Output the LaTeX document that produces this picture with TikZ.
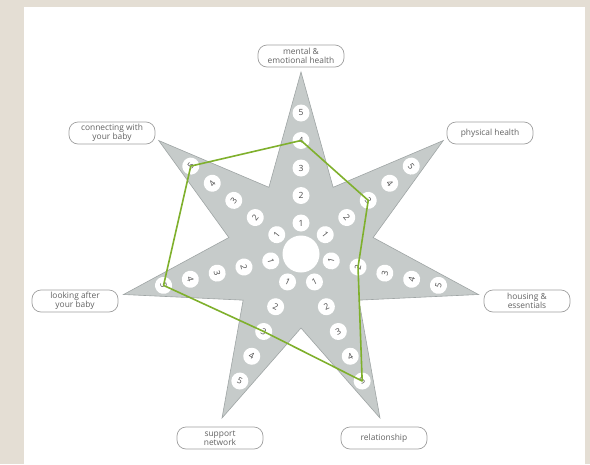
\documentclass[tikz,border=0pt]{standalone}
\usepackage{fontspec}
\setmainfont{Open Sans}
\definecolor{beige}{HTML}{E4DED4}
\definecolor{starfill}{HTML}{C6CBCA}
\definecolor{stardraw}{HTML}{9FA5A5}
\definecolor{linegreen}{HTML}{7FB02C}
\definecolor{labtext}{HTML}{636363}
\definecolor{labdraw}{HTML}{A0A0A0}
\definecolor{digtext}{HTML}{4A4A4A}
\tikzset{
  starshape/.style={fill=starfill, draw=stardraw, line width=0.6pt, line join=miter},
  digit/.style={circle, fill=white, inner sep=0pt, minimum size=17pt, text=digtext, font=\fontsize{8.5}{9}\selectfont},
  hub/.style={circle, fill=white, inner sep=0pt, minimum size=37pt},
  lab/.style={draw=labdraw, line width=0.7pt, rounded corners=9pt, minimum width=86pt, minimum height=22pt, align=center, text=labtext, inner sep=1pt, font=\fontsize{8.4}{8.6}\selectfont},
  score/.style={draw=linegreen, line width=1.6pt, line join=round}
}
\begin{document}
\begin{tikzpicture}[x=1pt,y=-1pt]
\useasboundingbox (0,0) rectangle (590,464);
\fill[beige] (0,0) rectangle (590,464);
\fill[white] (24,7) rectangle (585,464);
% star vertices
\foreach \i in {0,...,6}{
  \coordinate (T\i) at ({301+182*cos(90-51.4286*\i)},{254-182*sin(90-51.4286*\i)});
  \coordinate (I\i) at ({301+74*cos(90-51.4286*\i-25.7143)},{254-74*sin(90-51.4286*\i-25.7143)});
}
\path[starshape] (T0)--(I0)--(T1)--(I1)--(T2)--(I2)--(T3)--(I3)--(T4)--(I4)--(T5)--(I5)--(T6)--(I6)--cycle;
\node[hub] (hub) at (301,254) {};
% numbered circles
\foreach \i/\r in {0/0,1/-51.43,2/77.14,3/25.71,4/-25.71,5/-77.14,6/51.43}{
  \foreach \k in {1,...,5}{
    \node[digit, rotate=\r] (d\i\k) at ({301+(31+27.5*(\k-1))*cos(90-51.4286*\i)},{254-(31+27.5*(\k-1))*sin(90-51.4286*\i)}) {\k};
  }
}
% score polygon
\draw[score] (d04.center)--(d13.center)--(d22.center)--(d35.center)--(d43.center)--(d55.center)--(d65.center)--cycle;
% labels
\node[lab] (mental) at (301,56) {mental \&\\emotional health};
\node[lab] (physical) at (490,133) {physical health};
\node[lab] (housing) at (527,301) {housing \&\\essentials};
\node[lab] (relationship) at (384,438) {relationship};
\node[lab] (support) at (220,438) {support\\network};
\node[lab] (looking) at (75,301) {looking after\\your baby};
\node[lab] (connecting) at (112,133) {connecting with\\your baby};
\end{tikzpicture}
\end{document}
